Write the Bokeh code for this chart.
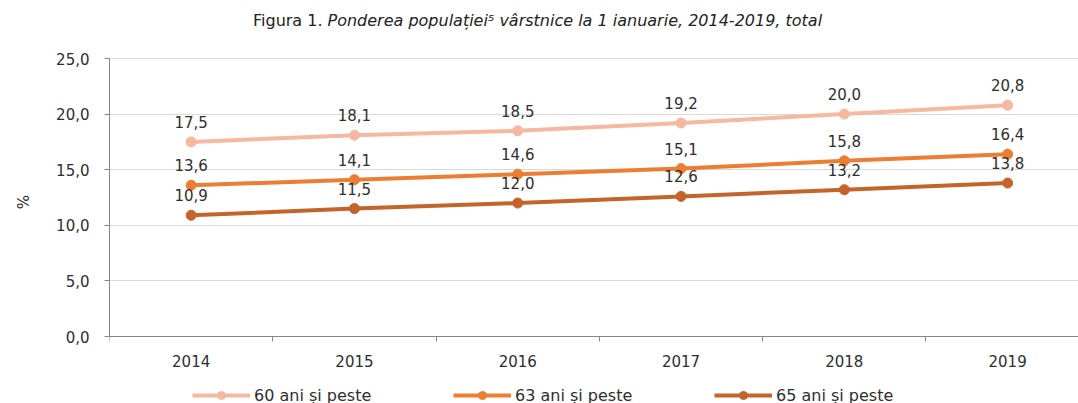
from bokeh.plotting import figure
from bokeh.models import FixedTicker, Range1d, Legend, LegendItem, ColumnDataSource, Label
from bokeh.embed import file_html
from bokeh.resources import INLINE

years = [2014, 2015, 2016, 2017, 2018, 2019]
s60 = [17.5, 18.1, 18.5, 19.2, 20.0, 20.8]
s63 = [13.6, 14.1, 14.6, 15.1, 15.8, 16.4]
s65 = [10.9, 11.5, 12.0, 12.6, 13.2, 13.8]
series_names = ["60 ani și peste", "63 ani și peste", "65 ani și peste"]
y_ticks = [0, 5, 10, 15, 20, 25]
title_a = "Figura 1."
title_b = "Ponderea populației\u2075 vârstnice la 1 ianuarie, 2014-2019, total"
y_label = "%"

colors = ["#F4B9A0", "#ED7D31", "#C5642A"]
FONT = "DejaVu Sans"
TXT = "#2E2E2E"

# the frame spans the whole height; the value axis runs 0..25 inside it
PX_PER_UNIT = 278 / 25
p = figure(width=1078, height=403, output_backend="svg", toolbar_location=None,
           x_range=Range1d(2013.5, 2019.434),
           y_range=Range1d(-67 / PX_PER_UNIT, 25 + 58 / PX_PER_UNIT),
           min_border_left=109, min_border_right=0, min_border_top=0, min_border_bottom=0)
p.outline_line_color = None
p.background_fill_color = "white"
p.border_fill_color = "white"

# x axis drawn at value 0
p.xaxis.fixed_location = 0
p.xaxis.ticker = FixedTicker(ticks=years, minor_ticks=[y - 0.5 for y in years] + [years[-1] + 0.5])
p.xaxis.major_tick_in = 0
p.xaxis.major_tick_out = 0
p.xaxis.minor_tick_in = 0
p.xaxis.minor_tick_out = 5
p.xaxis.minor_tick_line_color = "#868686"
p.xaxis.axis_line_color = "#868686"
p.xaxis.major_label_standoff = 13
p.xaxis.major_label_text_font = FONT
p.xaxis.major_label_text_font_size = "15px"
p.xaxis.major_label_text_color = TXT

p.yaxis.bounds = (0, 25)
p.yaxis.ticker = FixedTicker(ticks=y_ticks, minor_ticks=[])
p.yaxis.major_label_overrides = {t: f"{t:.1f}".replace(".", ",") for t in y_ticks}
p.yaxis.major_tick_in = 0
p.yaxis.major_tick_out = 5
p.yaxis.major_tick_line_color = "#868686"
p.yaxis.axis_line_color = "#868686"
p.yaxis.major_label_standoff = 15
p.yaxis.major_label_text_font = FONT
p.yaxis.major_label_text_font_size = "15px"
p.yaxis.major_label_text_color = TXT
p.yaxis.axis_label = y_label
p.yaxis.axis_label_standoff = 20
p.yaxis.axis_label_text_font = FONT
p.yaxis.axis_label_text_font_size = "15px"
p.yaxis.axis_label_text_font_style = "normal"
p.yaxis.axis_label_text_color = TXT

p.xgrid.visible = False
p.ygrid.grid_line_color = "#D9D9D9"
p.ygrid.grid_line_width = 1

items = []
for name, vals, c in zip(series_names, [s60, s63, s65], colors):
    src = ColumnDataSource(dict(x=years, y=vals, lbl=[f"{v:.1f}".replace(".", ",") for v in vals]))
    ln = p.line("x", "y", source=src, line_width=4, line_color=c)
    sc = p.scatter("x", "y", source=src, size=10, fill_color=c, line_color=c)
    p.text("x", "y", text="lbl", source=src, y_offset=-20, text_align="center",
           text_baseline="middle", text_font_size="15px", text_color=TXT,
           text_font={"value": FONT})
    items.append(LegendItem(label=name, renderers=[ln, sc]))

legend = Legend(items=items, orientation="horizontal", location=(83, -2),
                border_line_color=None, background_fill_alpha=0,
                label_text_font=FONT, label_text_font_size="16px", label_text_color=TXT,
                glyph_width=58, glyph_height=20, label_height=20, label_width=159,
                spacing=40, label_standoff=4, padding=0, margin=0)
p.add_layout(legend, "center")

p.add_layout(Label(x=213, y=383, x_units="screen", y_units="screen", text=title_a,
                   text_align="right", text_baseline="middle", text_font=FONT,
                   text_font_size="16px", text_color="#222222"))
p.add_layout(Label(x=218, y=383, x_units="screen", y_units="screen", text=title_b,
                   text_align="left", text_baseline="middle", text_font=FONT,
                   text_font_size="16px", text_font_style="italic", text_color="#222222"))

open("out.html", "w").write(file_html(p, INLINE))
